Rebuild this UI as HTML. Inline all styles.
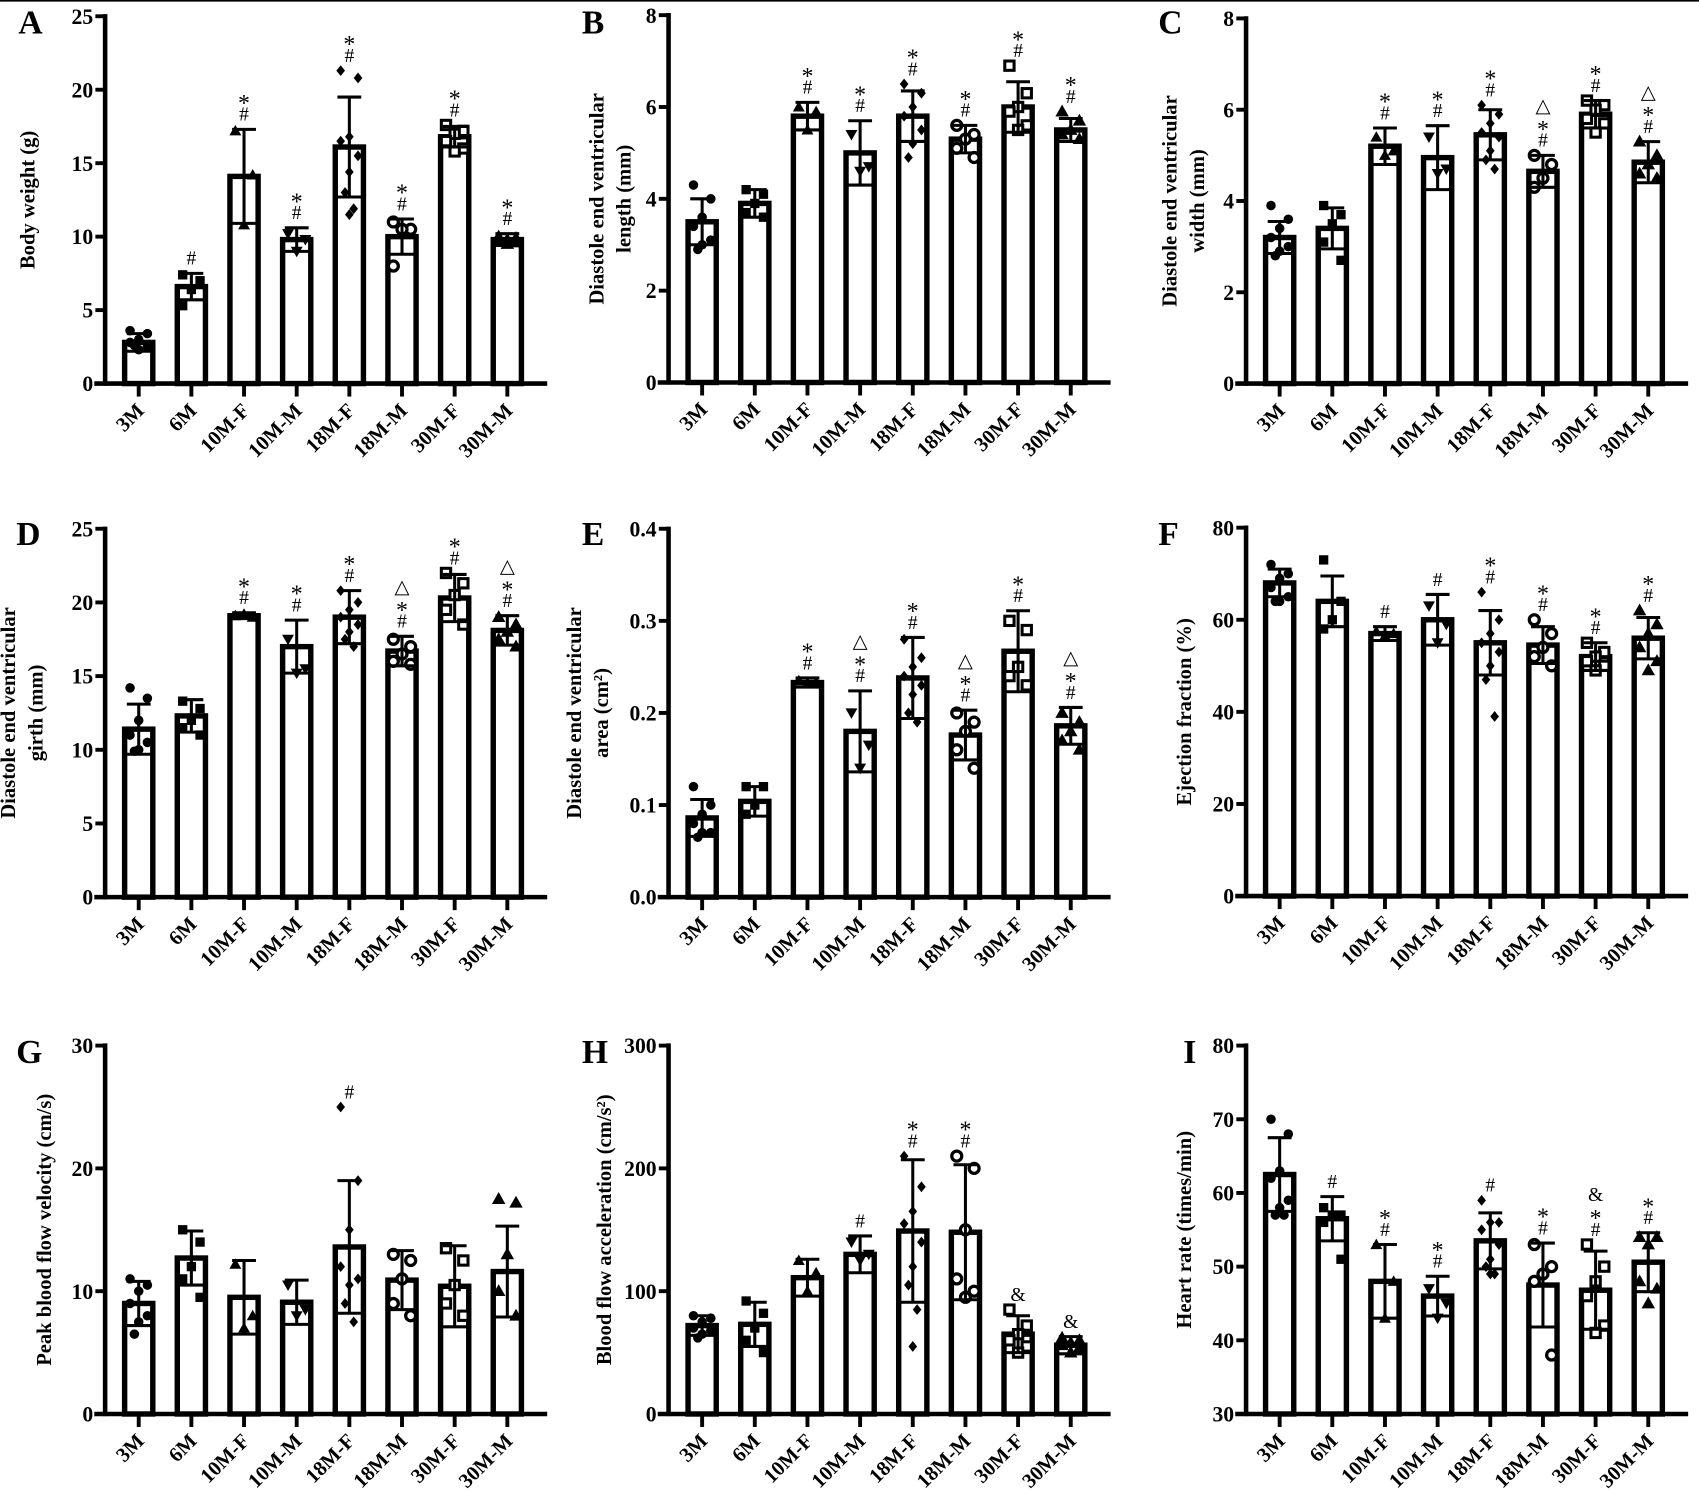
<!DOCTYPE html>
<html><head><meta charset="utf-8"><style>
html,body{margin:0;padding:0;background:#fff}
svg{display:block}
text{font-family:"Liberation Serif",serif;font-weight:bold;fill:#000}
</style></head><body>
<svg id="fig" width="1699" height="1505" viewBox="0 0 1568 1389" xmlns="http://www.w3.org/2000/svg">
<rect x="0" y="0" width="1568" height="1.5" fill="#000"/>
</svg>
<script>
const categories=["3M","6M","10M-F","10M-M","18M-F","18M-M","30M-F","30M-M"];
// Panel A
const meanA=[2.8,6.6,14.1,9.8,16.1,10.0,16.8,9.8];
const sdA=[0.6,0.9,3.2,0.8,3.4,1.2,0.7,0.4];
const ptsA=[[3.6,3.4,3.0,2.8,2.5,2.3,2.6],[7.4,7.0,6.4,5.3],[17.2,14.2,10.8],[10.2,9.8,9.0],[21.3,20.8,16.8,16.5,15.5,14.4,13.0,11.9,11.5],[11.0,10.5,10.5,8.0],[17.6,17.2,17.0,16.5,16.0,15.8],[10.0,9.9,9.8,9.7,9.6,9.5]];
const annA=["","#","*#","*#","*#","*#","*#","*#"];
const ticksA=[0,5,10,15,20,25];
// Panel B
const meanB=[3.5,3.9,5.8,5.0,5.8,5.3,6.0,5.5];
const sdB=[0.5,0.3,0.3,0.7,0.55,0.3,0.55,0.25];
const ptsB=[[4.3,4.0,3.6,3.4,3.1,3.0,2.9],[4.2,4.1,3.9,3.7,3.6],[6.0,5.9,5.5],[5.4,4.7,4.6],[6.5,6.3,6.0,5.8,5.5,5.2,4.9],[5.6,5.4,5.3,5.1,4.9],[6.9,6.3,6.0,5.9,5.6,5.5],[5.9,5.7,5.5,5.4,5.3]];
const annB=["","","*#","*#","*#","*#","*#","*#"];
const ticksB=[0,2,4,6,8];
// Panel C
const meanC=[3.2,3.4,5.2,4.95,5.45,4.65,5.9,4.85];
const sdC=[0.35,0.45,0.4,0.7,0.55,0.35,0.3,0.45];
const ptsC=[[3.9,3.6,3.4,3.2,3.0,2.9,2.8],[3.9,3.7,3.5,3.1,2.7],[5.4,5.1,5.0],[5.4,4.7,4.6],[6.1,5.9,5.7,5.5,5.4,5.1,4.9,4.7],[5.0,4.8,4.5,4.3],[6.2,6.1,6.0,5.8,5.7,5.5],[5.3,5.0,4.8,4.6,4.5]];
const annC=["","","*#","*#","*#","△*#","*#","△*#"];
const ticksC=[0,2,4,6,8];
// Panel D
const meanD=[11.4,12.3,19.1,17.0,19.0,16.7,20.3,18.1];
const sdD=[1.7,1.1,0.2,1.8,1.8,1.0,1.6,1.0];
const ptsD=[[14.2,13.5,12.0,11.0,10.5,10.0,9.9],[13.3,12.8,12.0,11.5,11.0],[19.1,19.0,19.2],[17.5,15.5,15.2],[20.8,20.0,19.5,19.0,18.5,18.0,17.5,17.0],[17.5,17.0,16.5,16.0,15.8],[22.0,21.3,20.5,19.5,18.5],[19.0,18.5,18.0,17.5,17.0]];
const annD=["","","*#","*#","*#","△*#","*#","△*#"];
const ticksD=[0,5,10,15,20,25];
// Panel E
const meanE=[0.086,0.104,0.233,0.180,0.238,0.176,0.267,0.186];
const sdE=[0.02,0.016,0.005,0.044,0.044,0.027,0.044,0.02];
const ptsE=[[0.12,0.10,0.09,0.08,0.07,0.07,0.065],[0.12,0.12,0.10,0.09],[0.235,0.233,0.232],[0.20,0.165,0.14],[0.28,0.26,0.25,0.24,0.23,0.22,0.20,0.19],[0.20,0.19,0.18,0.16,0.14],[0.30,0.29,0.25,0.24,0.23],[0.20,0.19,0.18,0.17,0.16]];
const annE=["","","*#","△*#","*#","△*#","*#","△*#"];
const ticksE=[0,0.1,0.2,0.3,0.4];
// Panel F
const meanF=[68,64,57,60,55,54.5,52,56];
const sdF=[3,5.5,1.5,5.5,7,4,3,4.5];
const ptsF=[[72,70,69,67,65,64,64],[73,64,60,58],[57.5,57,56.5],[63,59,55],[66,60,57,55,53,50,47,39],[60,57,54,52,50],[55,53,52,51,50,49],[62,59,57,54,51,49]];
const annF=["","","#","#","*#","*#","*#","*#"];
const ticksF=[0,20,40,60,80];
// Panel G
const meanG=[9.0,12.7,9.5,9.1,13.6,10.9,10.4,11.6];
const sdG=[1.8,2.2,3.0,1.8,5.4,2.4,3.3,3.7];
const ptsG=[[11,10.5,10,9,8,7.5,6.5],[15,14,12,11,9.5],[12.2,8.0,7.0],[10.5,8.5,8.0],[25,19,15,12,11,10.5,9,7.5],[13,12.5,11,9,8],[13.5,12.5,10.5,9,8],[17.5,17.2,13,10,8]];
const annG=["","","","","#","","",""];
const ticksG=[0,10,20,30];
// Panel H
const meanH=[72,73,111,130,149,148,65,56];
const sdH=[8,18,15,15,58,55,15,7];
const ptsH=[[80,78,75,70,68,65,62],[92,82,70,60,50],[125,115,100],[140,130,125],[210,185,165,155,140,120,105,85,55],[210,200,150,110,100,95],[85,72,65,60,55,50],[62,60,58,56,54,50]];
const annH=["","","","#","*#","*#","&","&"];
const ticksH=[0,100,200,300];
// Panel I
const meanI=[62.5,56.5,48,46,53.5,47.5,46.8,50.6];
const sdI=[5,3,5,2.7,3.8,5.7,5.3,4];
const ptsI=[[70,68,63,62,59,58,57,57],[58,57,57,56,51],[53,48,43],[47,45,43],[59,56,56,55,53,51,50,49,49],[53,50,49,48,38],[53,50,48,46,42,41],[54,54,53,48,47,45]];
const annI=["","#","*#","*#","#","*#","&*#","*#"];
const ticksI=[30,40,50,60,70,80];

const NS="http://www.w3.org/2000/svg";
const svg=document.getElementById('fig');
function mk(tag,attrs,parent){const e=document.createElementNS(NS,tag);for(const k in attrs)e.setAttribute(k,attrs[k]);(parent||svg).appendChild(e);return e;}
const jit=[-8,8,0,-8,8,0,-4,4,0];

const panels=[
 {id:"a",letter:"A",ax:97,top:15,bot:354,mn:0,mx:25,mean:meanA,sd:sdA,pts:ptsA,ann:annA,ticks:ticksA,title:["Body weight (g)"],tx:[32],lx:17,ly:31,fmt:0},
 {id:"b",letter:"B",ax:617,top:14,bot:353,mn:0,mx:8,mean:meanB,sd:sdB,pts:ptsB,ann:annB,ticks:ticksB,title:["Diastole end ventricular","length (mm)"],tx:[557,582],lx:537,ly:31,fmt:0},
 {id:"c",letter:"C",ax:1150,top:17,bot:354,mn:0,mx:8,mean:meanC,sd:sdC,pts:ptsC,ann:annC,ticks:ticksC,title:["Diastole end ventricular","width (mm)"],tx:[1086,1111],lx:1069,ly:31,fmt:0},
 {id:"d",letter:"D",ax:97,top:488,bot:828,mn:0,mx:25,mean:meanD,sd:sdD,pts:ptsD,ann:annD,ticks:ticksD,title:["Diastole end ventricular","girth (mm)"],tx:[14,39],lx:15,ly:503,fmt:0},
 {id:"e",letter:"E",ax:617,top:488,bot:828,mn:0,mx:0.4,mean:meanE,sd:sdE,pts:ptsE,ann:annE,ticks:ticksE,title:["Diastole end ventricular","area (cm²)"],tx:[536,561],lx:537,ly:503,fmt:1},
 {id:"f",letter:"F",ax:1150,top:487,bot:827,mn:0,mx:80,mean:meanF,sd:sdF,pts:ptsF,ann:annF,ticks:ticksF,title:["Ejection fraction (%)"],tx:[1099],lx:1069,ly:503,fmt:0},
 {id:"g",letter:"G",ax:97,top:965,bot:1305,mn:0,mx:30,mean:meanG,sd:sdG,pts:ptsG,ann:annG,ticks:ticksG,title:["Peak blood flow velocity (cm/s)"],tx:[47],lx:15,ly:981,fmt:0},
 {id:"h",letter:"H",ax:617,top:965,bot:1305,mn:0,mx:300,mean:meanH,sd:sdH,pts:ptsH,ann:annH,ticks:ticksH,title:["Blood flow acceleration (cm/s²)"],tx:[564],lx:537,ly:981,fmt:0},
 {id:"i",letter:"I",ax:1150,top:965,bot:1305,mn:30,mx:80,mean:meanI,sd:sdI,pts:ptsI,ann:annI,ticks:ticksI,title:["Heart rate (times/min)"],tx:[1099],lx:1092,ly:981,fmt:0}
];

function marker(g,type,x,y){
  let e;
  if(type===0) e=mk('circle',{cx:x,cy:y,r:4.4,fill:'#000'},g);
  else if(type===1) e=mk('rect',{x:x-4.3,y:y-4.3,width:8.6,height:8.6,fill:'#000'},g);
  else if(type===2) e=mk('polygon',{points:`${x},${y-5.5} ${x-5.5},${y+4.2} ${x+5.5},${y+4.2}`,fill:'#000'},g);
  else if(type===3) e=mk('polygon',{points:`${x},${y+5.5} ${x-5.5},${y-4.2} ${x+5.5},${y-4.2}`,fill:'#000'},g);
  else if(type===4) e=mk('polygon',{points:`${x},${y-5} ${x+4},${y} ${x},${y+5} ${x-4},${y}`,fill:'#000'},g);
  else if(type===5) e=mk('circle',{cx:x,cy:y,r:4.6,fill:'#fff',stroke:'#000','stroke-width':3},g);
  else if(type===6) e=mk('rect',{x:x-4.3,y:y-4.3,width:8.6,height:8.6,fill:'#fff',stroke:'#000','stroke-width':2.8},g);
  else e=mk('polygon',{points:`${x},${y-6.5} ${x-6.2},${y+4.5} ${x+6.2},${y+4.5}`,fill:'#000'},g);
  return e;
}

panels.forEach(p=>{
  const g=mk('g',{});
  
  
  const yS=v=>p.bot-(v-p.mn)/(p.mx-p.mn)*(p.bot-p.top);
  const xS=i=>p.ax+31+i*48.6;
  const xEnd=p.ax+408;
  const L=mk('text',{x:p.lx,y:p.ly,'font-size':31},g);L.textContent=p.letter;
  
  
  p.mean.forEach((m,i)=>{
    const cx=xS(i);
    const b=mk('rect',{x:cx-13,y:yS(m),width:26,height:p.bot-yS(m),fill:'#fff',stroke:'#000','stroke-width':5},g);
    
    
  });
  p.pts.forEach((arr,i)=>{
    arr.forEach((v,j)=>{
      const m=marker(g,i,xS(i)+jit[j%jit.length],yS(v));
      
      
    });
  });
  p.mean.forEach((m,i)=>{
    const cx=xS(i),s=p.sd[i];
    const e=mk('path',{d:`M${cx},${yS(m-s)}V${yS(m+s)}M${cx-11},${yS(m+s)}H${cx+11}M${cx-11},${yS(m-s)}H${cx+11}`,stroke:'#000','stroke-width':2.8,fill:'none'},g);
    
    
  });
  p.ann.forEach((a,i)=>{
    if(!a) return;
    const top=Math.min(yS(p.mean[i]+p.sd[i]),...p.pts[i].map(yS));
    const chars=[...a];
    chars.forEach((c,k)=>{
      const yy=top-8-(chars.length-1-k)*16;
      const t=mk('text',{x:xS(i),y:yy,'text-anchor':'middle','font-size':c==='*'?22:18,fill:c==='#'?'#555':'#222'},g);
      t.style.fontWeight='normal';
      if(c==='*') t.setAttribute('y',yy+7);
      t.textContent=c;
      
      
    });
  });
  const ya=mk('line',{x1:p.ax,y1:p.top-2,x2:p.ax,y2:p.bot+2,stroke:'#000','stroke-width':4.2},g);
  
  
  const xa=mk('line',{x1:p.ax-10,y1:p.bot,x2:xEnd,y2:p.bot,stroke:'#000','stroke-width':4.2},g);
  
  
  p.ticks.forEach(t=>{
    const y=yS(t);
    mk('line',{x1:p.ax-9,y1:y,x2:p.ax,y2:y,stroke:'#000','stroke-width':3.6},g);
    const tl=mk('text',{x:p.ax-11,y:y+7,'text-anchor':'end','font-size':20},g);
    tl.textContent=p.fmt?t.toFixed(1):String(t);
    
    
  });
  categories.forEach((c,i)=>{
    const cx=xS(i);
    mk('line',{x1:cx,y1:p.bot,x2:cx,y2:p.bot+12,stroke:'#000','stroke-width':3.6},g);
    const tl=mk('text',{x:cx+6,y:p.bot+26,'text-anchor':'end','font-size':19,transform:`rotate(-45 ${cx+6} ${p.bot+26})`},g);
    tl.textContent=c;
    
    
  });
  const cy=(p.top+p.bot)/2;
  p.title.forEach((t,k)=>{
    const x=p.tx[k];
    const tt=mk('text',{x:x,y:cy,'text-anchor':'middle','font-size':19,transform:`rotate(-90 ${x} ${cy})`},g);
    tt.textContent=t;
    
    
  });
});
</script>
</body></html>
